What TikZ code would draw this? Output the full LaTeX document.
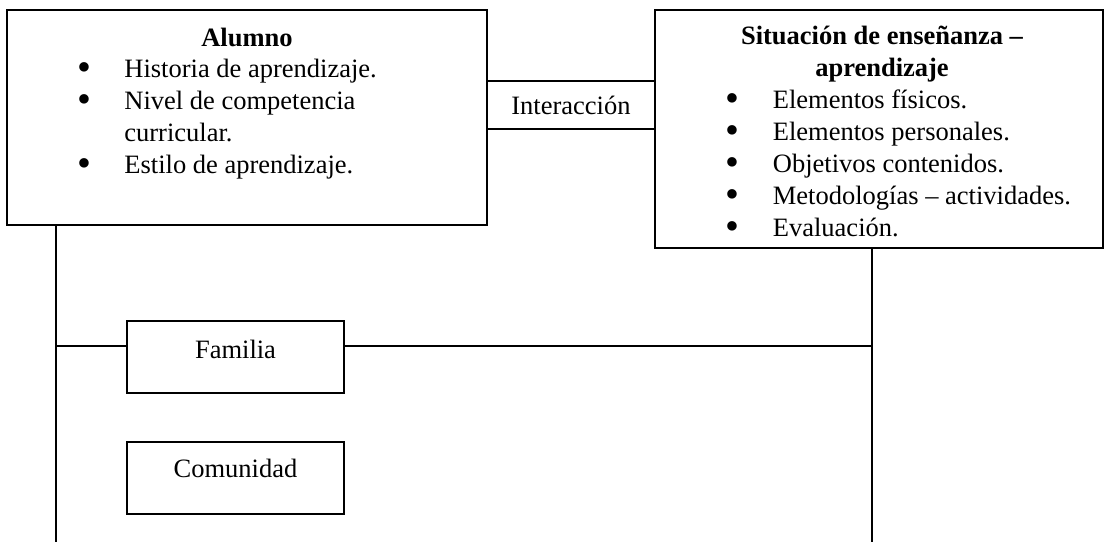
\documentclass[tikz,border=0pt]{standalone}
\usepackage{fontspec}
\setmainfont{Liberation Serif}
\usepackage{graphicx}
\usepackage{tikz}
\usetikzlibrary{positioning}
\newcommand{\cuerpo}{\fontsize{13.25pt}{16pt}\selectfont}
\newcommand{\vineta}{\makebox[23.5pt][l]{\raisebox{-0.12em}{\scalebox{1.5}{\textbullet}}}}
\newcommand{\sangria}{\makebox[23.5pt][l]{}}

\begin{document}
\begin{tikzpicture}[x=0.5pt,y=0.5pt,yscale=-1,xscale=1,
  caja/.style={draw, line width=1pt, inner sep=0pt, outer sep=0pt},
  texto/.style={font=\cuerpo, inner sep=0pt},
  linea/.style={line width=1pt}]
\useasboundingbox (0,0) rectangle (1104,542);

%Shape: Rectangle
\node[caja, anchor=north west, minimum width=240pt, minimum height=107.5pt] (alumno) at (7,10) {};
%Shape: Rectangle
\node[caja, anchor=north west, minimum width=224pt, minimum height=119pt] (situacion) at (655,10) {};
%Shape: Rectangle
\node[caja, texto, minimum width=84pt, minimum height=24pt] (interaccion) at (571,105) {Interacción};
%Shape: Rectangle
\node[caja, anchor=north west, minimum width=108.5pt, minimum height=36pt] (familia) at (127,321) {};
%Shape: Rectangle
\node[caja, anchor=north west, minimum width=108.5pt, minimum height=36pt] (comunidad) at (127,442) {};

%Text (base anchor = baseline of the last line)
\node[texto, font=\cuerpo\bfseries, anchor=base] (alumnoT) at (247,46) {Alumno};
\node[texto, anchor=base west, align=left] (alumnoL) at (77,173) {\vineta Historia de aprendizaje.\\
  \vineta Nivel de competencia\\ \sangria curricular.\\ \vineta Estilo de aprendizaje.};
\node[texto, font=\cuerpo\bfseries, anchor=base, align=center] (situacionT) at (882,76) {Situación de enseñanza –\\ aprendizaje};
\node[texto, anchor=base west, align=left] (situacionL) at (725.5,236) {\vineta Elementos físicos.\\
  \vineta Elementos personales.\\ \vineta Objetivos contenidos.\\ \vineta Metodologías – actividades.\\ \vineta Evaluación.};
\node[texto, anchor=base] (familiaT) at (235.5,358) {Familia};
\node[texto, anchor=base] (comunidadT) at (235.5,477) {Comunidad};

%Straight Lines
\coordinate (izqfin) at (56,542);
\coordinate (derfin) at (872,542);
\coordinate (ramal) at (56,346);
\draw[linea] (alumno.south west -| izqfin) -- (izqfin);
\draw[linea] (situacion.south west -| derfin) -- (derfin);
\draw[linea] (ramal) -- (ramal -| familia.west);
\draw[linea] (ramal -| familia.east) -- (ramal -| derfin);

\end{tikzpicture}
\end{document}
